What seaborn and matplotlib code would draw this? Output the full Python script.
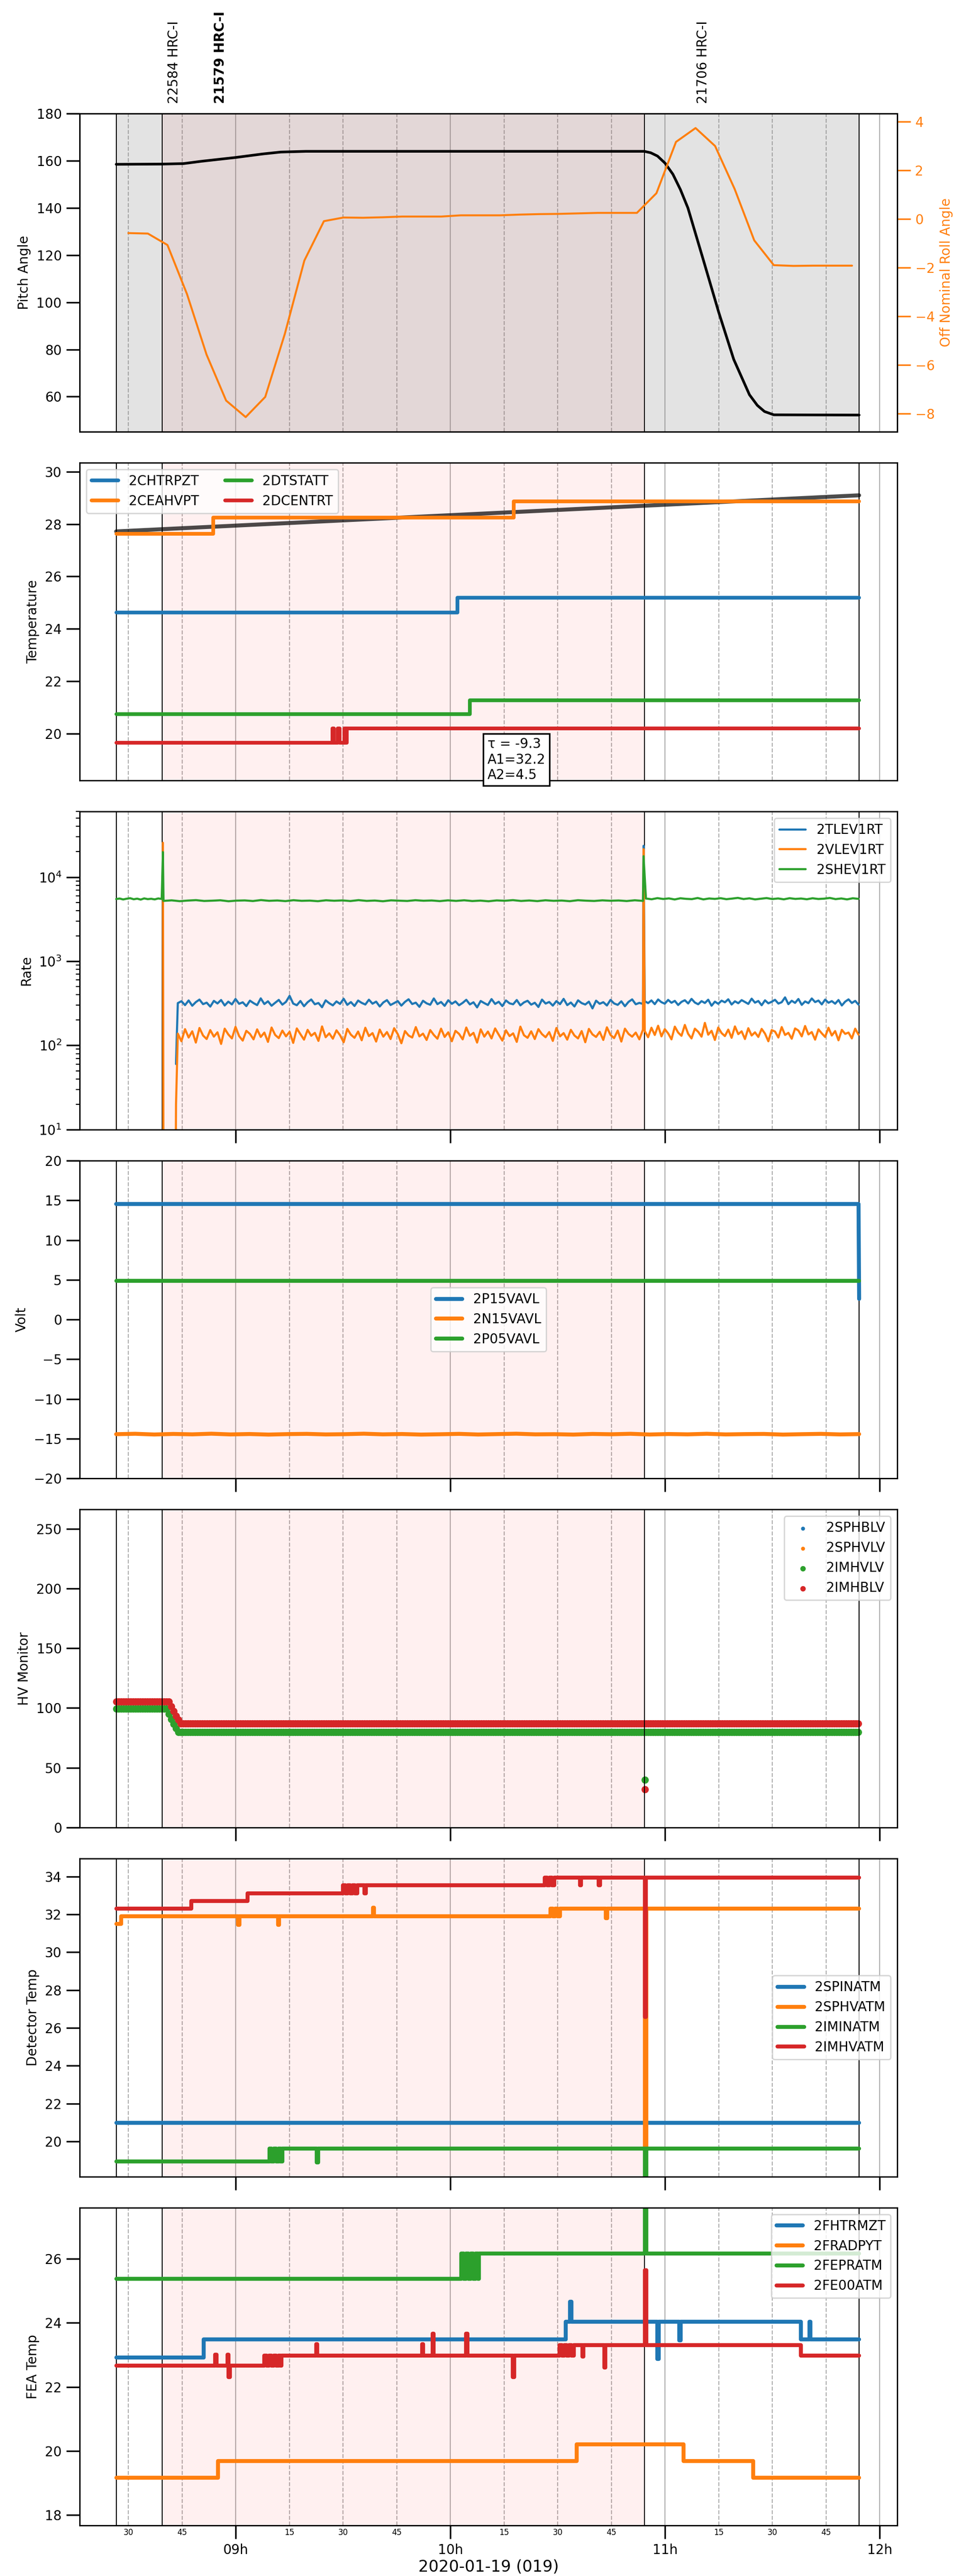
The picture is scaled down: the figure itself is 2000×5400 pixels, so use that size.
import numpy as np
import pandas as pd
import matplotlib
matplotlib.use('Agg')
import matplotlib.pyplot as plt
import matplotlib.dates as mdates
import seaborn as sns

DAY = '2020-01-19 '

# ---- panel 1: pitch and roll
pitch_time = ['08:26:36', '08:39:24', '08:45:24', '08:50:30', '09:00:00', '09:07:36', '09:12:36',
              '09:19:36', '10:54:12', '10:56:00', '10:57:54', '11:00:00', '11:02:12',
              '11:04:18', '11:06:24', '11:10:42', '11:15:00', '11:19:12', '11:23:36', '11:25:48',
              '11:27:48', '11:30:24', '11:54:15']
pitch_val = [158.5, 158.6, 158.8, 159.8, 161.4, 162.9, 163.7, 164.0, 164.0, 163.4, 162.0,
             159.0, 154.3, 147.8, 140.0, 118.0, 95.8, 75.8, 60.8, 56.3, 53.7, 52.3, 52.2]
roll_start = '08:30:00'
roll_step = '328s'
roll_val = [-0.58, -0.60, -1.07, -3.09, -5.58, -7.47, -8.15, -7.32, -4.73, -1.71, -0.09, 0.06, 0.05,
            0.07, 0.10, 0.10, 0.10, 0.15, 0.15, 0.15, 0.18, 0.20, 0.21, 0.23, 0.25, 0.25, 0.25, 1.06,
            3.17, 3.74, 3.00, 1.23, -0.88, -1.90, -1.93, -1.92, -1.92, -1.92]

obs_time = ['08:42:48', '08:55:42', '11:10:42']
obs_label = ['22584 HRC-I', '21579 HRC-I', '21706 HRC-I']
obs_bold = [False, True, False]

event_time = ['08:26:36', '08:39:24', '10:54:12', '11:54:15']

# ---- panel 2: temperature (step series)
fit_time = ['08:26:36', '11:54:15']
fit_val = [27.72, 29.10]
temp_names = ['2CHTRPZT', '2CEAHVPT', '2DTSTATT', '2DCENTRT']
temp_time = [
    ['08:26:36', '10:02:00', '11:54:15'],
    ['08:26:36', '08:53:42', '10:17:42', '11:54:15'],
    ['08:26:36', '10:05:24', '11:54:15'],
    ['08:26:36', '09:27:00', '09:27:30', '09:28:30', '09:29:00', '09:30:20', '09:30:40', '09:31:00', '11:54:15'],
]
temp_val = [
    [24.62, 25.19, 25.19],
    [27.63, 28.24, 28.87, 28.87],
    [20.73, 21.26, 21.26],
    [19.65, 20.20, 19.65, 20.20, 19.65, 20.20, 19.65, 20.20, 20.20],
]
fit_text = 'τ = -9.3\nA1=32.2\nA2=4.5'

# ---- panel 3: rates
blue_dense = [318, 335, 301, 342, 296, 327, 350, 309, 322, 289, 338, 315, 346, 298, 331, 307, 356, 312,
              325, 293, 340, 318, 301, 362, 310, 334, 296, 321, 347, 305, 329, 388, 314, 300, 337, 292,
              326, 351, 308, 319, 284, 343, 317, 299, 333, 311, 358, 303, 327, 294, 341, 320, 306, 349,
              313, 331, 290, 324, 345, 302, 318, 336, 297, 329, 353, 310, 322, 287, 339, 316, 304, 361,
              309, 328, 295, 344, 312, 333, 300, 320, 348, 307, 325, 283, 337, 318, 302, 355, 311, 330,
              293, 342, 316, 308, 346, 299, 324, 339, 305, 321, 286, 350, 314, 328, 297, 336, 309, 357,
              301, 323, 290, 343, 318, 306, 331, 275, 340, 312, 326, 298, 347, 315, 303, 334, 292, 329,
              352, 308, 320, 311]
blue_post = [335, 318, 342, 309, 351, 326, 313, 347, 321, 338, 302, 329, 344, 315, 357, 323, 308, 336,
             319, 349, 296, 331, 312, 340, 325, 353, 306, 334, 317, 345, 328, 311, 359, 322, 337, 300,
             343, 316, 330, 348, 314, 326, 372, 309, 339, 320, 356, 303, 333, 318, 361, 327, 341, 307,
             350, 321, 336, 313, 346, 298, 331, 352, 319, 338, 305]
orange_dense = [138, 112, 156, 124, 147, 108, 161, 131, 119, 152, 127, 143, 104, 158, 135, 121, 166, 129,
                114, 149, 137, 118, 155, 126, 142, 110, 163, 133, 122, 150, 128, 145, 107, 159, 136, 117,
                153, 130, 141, 113, 168, 125, 139, 120, 151, 132, 109, 157, 134, 123, 146, 115, 162, 129,
                140, 111, 154, 127, 144, 119, 160, 136, 106, 148, 131, 124, 165, 128, 138, 116, 152, 133,
                120, 158, 126, 143, 112, 149, 137, 118, 163, 130, 141, 108, 155, 127, 146, 121, 159, 134,
                114, 151, 129, 139, 110, 167, 132, 123, 147, 119, 156, 136, 125, 144, 113, 161, 128, 140,
                117, 153, 131, 121, 148, 109, 157, 135, 126, 145, 116, 164, 133, 122, 150, 111, 158, 137,
                127, 142, 118, 154]
orange_post = [148, 125, 162, 133, 171, 128, 156, 139, 118, 167, 142, 130, 175, 137, 121, 158, 145, 127,
               185, 134, 149, 116, 163, 140, 129, 154, 123, 168, 136, 147, 119, 160, 131, 143, 126, 157,
               138, 112, 152, 146, 124, 165, 133, 141, 120, 159, 150, 128, 170, 135, 144, 117, 155, 139,
               126, 162, 131, 148, 115, 153, 137, 142, 121, 158, 134]
green_pre = [5480, 5560, 5420, 5530, 5610, 5450, 5540, 5400, 5580, 5470, 5520, 5430, 5570, 5500]
green_dense = [5210, 5290, 5170, 5260, 5320, 5200, 5240, 5300, 5160, 5250, 5280, 5190, 5330, 5220, 5270,
               5180, 5310, 5220, 5250, 5170, 5300, 5230, 5280, 5190, 5320, 5210, 5260, 5160, 5290, 5240,
               5200, 5310, 5230, 5270, 5180, 5290, 5210, 5300, 5190, 5250, 5160, 5280, 5230, 5320, 5200,
               5270, 5180, 5300, 5220, 5260, 5170, 5310, 5240, 5200, 5290, 5230, 5270, 5190, 5300, 5210]
green_post = [5560, 5450, 5620, 5490, 5580, 5420, 5600, 5510, 5470, 5640, 5430, 5570, 5500, 5610, 5460,
              5550, 5660, 5480, 5590, 5430, 5530, 5630, 5480, 5570, 5440, 5610, 5500, 5560, 5450, 5600,
              5490, 5540, 5650, 5470, 5570, 5430, 5600, 5510]

# ---- panel 4: voltages
p15_time = ['08:26:36', '11:54:05', '11:54:15']
p15_val = [14.54, 14.54, 2.6]
p05_time = ['08:26:36', '11:54:15']
p05_val = [4.87, 4.87]
n15_val = [-14.42, -14.37, -14.46, -14.39, -14.44, -14.36, -14.45, -14.40, -14.47, -14.41, -14.38,
           -14.45, -14.42, -14.36, -14.44, -14.40, -14.47, -14.43, -14.38, -14.46, -14.41, -14.36,
           -14.44, -14.42, -14.47, -14.39, -14.43, -14.37, -14.46, -14.40, -14.44, -14.37, -14.45,
           -14.41, -14.39, -14.47, -14.42, -14.38, -14.45, -14.41]

# ---- panel 5: HV monitor (levels, sampled every 40 s)
sphblv_val = []
sphvlv_val = []
imhvlv_break = ['08:26:36', '08:41:00', '08:41:40', '08:42:20', '08:43:00', '08:43:40']
imhvlv_level = [99.2, 95.0, 90.5, 86.5, 83.0, 79.9]
imhblv_break = ['08:26:36', '08:41:20', '08:42:00', '08:42:40', '08:43:20', '08:44:00']
imhblv_level = [105.2, 101.5, 97.5, 93.5, 90.0, 87.0]
hv_out_time = ['10:54:20']
imhvlv_out = [40.0]
imhblv_out = [31.9]

# ---- panel 6: detector temps
det_names = ['2SPINATM', '2SPHVATM', '2IMINATM', '2IMHVATM']
det_time = [
    ['08:26:36', '11:54:15'],
    ['08:26:36', '08:28:00', '09:00:40', '09:01:00', '09:11:50', '09:12:10', '09:38:20', '09:38:40',
     '10:28:00', '10:28:40', '10:29:20', '10:30:00', '10:30:40', '10:43:30', '10:43:50', '10:54:24',
     '10:54:44', '11:54:15'],
    ['08:26:36', '09:09:24', '09:10:00', '09:10:40', '09:11:20', '09:12:00', '09:12:30', '09:13:00',
     '09:22:40', '09:23:00', '10:54:24', '10:54:44', '11:54:15'],
    ['08:26:36', '08:47:36', '09:03:18', '09:30:00', '09:30:40', '09:31:20', '09:32:00', '09:32:40',
     '09:33:20', '09:34:00', '09:36:00', '09:36:20', '10:26:20', '10:27:00', '10:27:40', '10:28:20',
     '10:29:00', '10:36:12', '10:36:32', '10:41:30', '10:41:50', '10:54:20', '10:54:40', '11:54:15'],
]
det_val = [
    [21.0, 21.0],
    [31.51, 31.91, 31.45, 31.91, 31.45, 31.91, 32.35, 31.91, 32.30, 31.91, 32.30, 31.91, 32.30, 31.80,
     32.30, 19.5, 32.30, 32.30],
    [18.95, 19.62, 18.95, 19.62, 18.95, 19.62, 18.95, 19.62, 18.90, 19.62, 15.0, 19.62, 19.62],
    [32.30, 32.72, 33.12, 33.55, 33.12, 33.55, 33.12, 33.55, 33.12, 33.55, 33.10, 33.55, 33.95, 33.55,
     33.95, 33.55, 33.95, 33.55, 33.95, 33.55, 33.95, 26.58, 33.95, 33.95],
]

# ---- panel 7: FEA temps
fea_names = ['2FHTRMZT', '2FRADPYT', '2FEPRATM', '2FE00ATM']
fea_time = [
    ['08:26:36', '08:51:00', '10:32:18', '10:33:30', '10:33:50', '10:57:54', '10:58:14', '11:04:00',
     '11:04:20', '11:38:00', '11:40:20', '11:40:40', '11:54:15'],
    ['08:26:36', '08:55:06', '10:35:18', '11:05:12', '11:24:42', '11:54:15'],
    ['08:26:36', '10:03:00', '10:03:40', '10:04:20', '10:05:00', '10:05:40', '10:06:20', '10:07:00',
     '10:07:40', '10:08:00', '10:54:24', '10:54:44', '11:54:15'],
    ['08:26:36', '08:54:18', '08:54:38', '08:57:42', '08:58:00', '08:58:20', '09:08:00', '09:08:40',
     '09:09:20', '09:10:00', '09:10:40', '09:11:20', '09:12:00', '09:12:30', '09:12:50', '09:22:30',
     '09:22:50', '09:52:06', '09:52:26', '09:55:00', '09:55:20', '10:04:24', '10:04:44', '10:17:30',
     '10:17:50', '10:30:30', '10:31:10', '10:31:50', '10:32:30', '10:33:10', '10:33:50', '10:34:30',
     '10:36:54', '10:37:14', '10:43:00', '10:43:20', '10:54:24', '10:54:44', '11:38:00', '11:54:15'],
]
fea_val = [
    [22.91, 23.48, 24.04, 24.66, 24.04, 22.87, 24.04, 23.45, 24.04, 23.48, 24.04, 23.48, 23.48],
    [19.16, 19.68, 20.20, 19.68, 19.16, 19.16],
    [25.38, 26.16, 25.38, 26.16, 25.38, 26.16, 25.38, 26.16, 25.38, 26.16, 28.5, 26.16, 26.16],
    [22.66, 23.00, 22.66, 23.00, 22.30, 22.66, 22.98, 22.66, 22.98, 22.66, 22.98, 22.66, 22.98, 22.66,
     22.98, 23.33, 22.98, 23.33, 22.98, 23.66, 22.98, 23.66, 22.98, 22.30, 22.98, 23.30, 22.98, 23.30,
     22.98, 23.30, 22.98, 23.30, 22.95, 23.30, 22.60, 23.30, 25.65, 23.30, 22.98, 22.98],
]

colors = ['#1f77b4', '#ff7f0e', '#2ca02c', '#d62728']


def ts(lst):
    return pd.to_datetime([DAY + t for t in lst])


def span(t0, t1, vals):
    return pd.date_range(DAY + t0, DAY + t1, periods=len(vals))


def cat(*parts):
    return pd.DatetimeIndex(np.concatenate([np.asarray(p) for p in parts]))


sns.set_style('ticks')
plt.rcParams.update({
    'font.family': ['DejaVu Sans'],
    'font.size': 10,
    'text.color': 'black',
    'axes.labelcolor': 'black',
    'axes.edgecolor': 'black',
    'axes.linewidth': 1.0,
    'xtick.color': 'black',
    'ytick.color': 'black',
    'legend.fontsize': 10,
})

fig, axes = plt.subplots(7, 1, figsize=(10, 27), dpi=200, sharex=True)
fig.subplots_adjust(left=0.0835, right=0.9405, top=0.9559, bottom=0.0196, hspace=0.0976)

for ax in axes:
    ax.axvspan(pd.Timestamp(DAY + event_time[1]), pd.Timestamp(DAY + event_time[2]),
               color='red', alpha=0.06, lw=0)
axes[0].axvspan(pd.Timestamp(DAY + event_time[0]), pd.Timestamp(DAY + event_time[3]),
                color='gray', alpha=0.22, lw=0)
for ax in axes:
    for t in event_time:
        ax.axvline(pd.Timestamp(DAY + t), color='black', lw=0.7, zorder=1.6)

# panel 1
ax = axes[0]
sns.lineplot(x=ts(pitch_time), y=pitch_val, ax=ax, color='black', lw=2, estimator=None)
ax.set_ylim(45.2, 180)
ax.set_yticks(np.arange(60, 181, 20))
ax.set_ylabel('Pitch Angle')
ax2 = ax.twinx()
roll_t = pd.date_range(DAY + roll_start, periods=len(roll_val), freq=roll_step)
sns.lineplot(x=roll_t, y=roll_val, ax=ax2, color=colors[1], lw=1.5, estimator=None)
ax2.set_ylabel('Off Nominal Roll Angle', color=colors[1])
ax2.tick_params(axis='y', colors=colors[1], length=10, width=1.2)
ax2.spines['right'].set_color('black')
for t, lab, b in zip(obs_time, obs_label, obs_bold):
    ax.text(mdates.date2num(pd.Timestamp(DAY + t)), 1.0315, lab, transform=ax.get_xaxis_transform(),
            rotation=90, ha='center', va='bottom', fontsize=10,
            fontweight='bold' if b else 'normal')

# panel 2
ax = axes[1]
sns.lineplot(x=ts(fit_time), y=fit_val, ax=ax, color='black', alpha=0.7, lw=3, estimator=None)
for name, tt, vv, c in zip(temp_names, temp_time, temp_val, colors):
    sns.lineplot(x=ts(tt), y=vv, ax=ax, color=c, lw=2.8, drawstyle='steps-post',
                 estimator=None, label=name)
ax.legend(loc='upper left', ncol=2)
ax.set_ylim(18.2, 30.35)
ax.set_yticks(np.arange(20, 31, 2))
ax.set_ylabel('Temperature')
ax.text(mdates.date2num(pd.Timestamp(DAY + '10:10:20')), 19.84, fit_text, ha='left', va='top',
        fontsize=10, bbox=dict(boxstyle='square', fc='white', ec='black', lw=1.2))

# panel 3
ax = axes[2]
ax.set_yscale('log')
blue_t = cat(ts(['08:43:20', '08:43:30']), span('08:43:50', '10:53:50', blue_dense),
             ts(['10:54:00']), span('10:54:20', '11:54:05', blue_post))
blue_v = [60, 110] + blue_dense + [23500] + blue_post
orange_t = cat(ts(['08:39:40', '08:39:50', '08:43:10', '08:43:20', '08:43:30']),
               span('08:43:50', '10:53:50', orange_dense), ts(['10:54:00']),
               span('10:54:20', '11:54:05', orange_post))
orange_v = [25600, 1, 1, 20, 38] + orange_dense + [21500] + orange_post
green_t = cat(span('08:26:36', '08:39:20', green_pre), ts(['08:39:40']),
              span('08:39:50', '10:53:50', green_dense), ts(['10:54:00']),
              span('10:54:40', '11:54:05', green_post))
green_v = green_pre + [19800] + green_dense + [17700] + green_post
for name, tt, vv, c in zip(['2TLEV1RT', '2VLEV1RT', '2SHEV1RT'], [blue_t, orange_t, green_t],
                           [blue_v, orange_v, green_v], colors):
    sns.lineplot(x=tt, y=vv, ax=ax, color=c, lw=1.6, estimator=None, label=name)
ax.legend(loc='upper right')
ax.set_ylim(10, 6e4)
ax.set_ylabel('Rate')

# panel 4
ax = axes[3]
n15_t = span('08:26:36', '11:54:15', n15_val)
sns.lineplot(x=ts(p15_time), y=p15_val, ax=ax, color=colors[0], lw=3, estimator=None, label='2P15VAVL')
sns.lineplot(x=n15_t, y=n15_val, ax=ax, color=colors[1], lw=3, estimator=None, label='2N15VAVL')
sns.lineplot(x=ts(p05_time), y=p05_val, ax=ax, color=colors[2], lw=3, estimator=None, label='2P05VAVL')
ax.legend(loc='center')
ax.set_ylim(-20, 20)
ax.set_yticks(np.arange(-20, 21, 5))
ax.set_ylabel('Volt')

# panel 5
ax = axes[4]
hv_grid = pd.date_range(DAY + '08:26:36', DAY + '11:54:10', freq='40s')


def levels(breaks, lev):
    idx = np.searchsorted(ts(breaks), hv_grid, side='right') - 1
    return np.asarray(lev)[idx]


imhvlv_t = cat(hv_grid, ts(hv_out_time))
imhvlv_v = np.concatenate([levels(imhvlv_break, imhvlv_level), imhvlv_out])
imhblv_v = np.concatenate([levels(imhblv_break, imhblv_level), imhblv_out])
ax.scatter(ts(sphblv_val), sphblv_val, color=colors[0], s=16, lw=0, label='2SPHBLV')
ax.scatter(ts(sphvlv_val), sphvlv_val, color=colors[1], s=16, lw=0, label='2SPHVLV')
sns.scatterplot(x=imhvlv_t, y=imhvlv_v, ax=ax, color=colors[2], s=30, linewidth=0, label='2IMHVLV')
sns.scatterplot(x=imhvlv_t, y=imhblv_v, ax=ax, color=colors[3], s=30, linewidth=0, label='2IMHBLV')
ax.legend(loc='upper right', markerscale=0.75)
ax.set_ylim(0, 266)
ax.set_yticks(np.arange(0, 251, 50))
ax.set_ylabel('HV Monitor')

# panel 6
ax = axes[5]
for name, tt, vv, c in zip(det_names, det_time, det_val, colors):
    sns.lineplot(x=ts(tt), y=vv, ax=ax, color=c, lw=3, drawstyle='steps-post',
                 estimator=None, label=name)
ax.legend(loc='center right')
ax.set_ylim(18.15, 34.95)
ax.set_yticks(np.arange(20, 35, 2))
ax.set_ylabel('Detector Temp')

# panel 7
ax = axes[6]
for name, tt, vv, c in zip(fea_names, fea_time, fea_val, colors):
    sns.lineplot(x=ts(tt), y=vv, ax=ax, color=c, lw=3, drawstyle='steps-post',
                 estimator=None, label=name)
ax.legend(loc='upper right')
ax.set_ylim(17.67, 27.6)
ax.set_yticks(np.arange(18, 27, 2))
ax.set_ylabel('FEA Temp')

# shared x axis
for i, ax in enumerate(axes):
    ax.grid(True, which='major', axis='x', color='#b0b0b0', lw=0.8, ls='-')
    ax.grid(True, which='minor', axis='x', color='#b0b0b0', lw=0.8, ls='--')
    ax.grid(False, axis='y')
    ax.tick_params(axis='y', which='major', length=10, width=1.2, direction='out')
    ax.tick_params(axis='y', which='minor', length=3, width=0.8)
    ax.tick_params(axis='x', which='major', length=0 if i < 2 else 10, width=1.2,
                   labelsize=10, pad=3.5)
    ax.tick_params(axis='x', which='minor', length=0, labelsize=6, pad=2)
    ax.set_xlabel('')

bottom = axes[-1]
bottom.xaxis.set_major_locator(mdates.HourLocator())
bottom.xaxis.set_major_formatter(mdates.DateFormatter('%Hh'))
bottom.xaxis.set_minor_locator(mdates.MinuteLocator(byminute=[15, 30, 45]))
bottom.xaxis.set_minor_formatter(mdates.DateFormatter('%M'))
bottom.set_xlim(pd.Timestamp(DAY + '08:16:24'), pd.Timestamp(DAY + '12:04:54'))
bottom.set_xlabel('2020-01-19 (019)', fontsize=12, labelpad=2)

fig.savefig('out.png', dpi=200)
